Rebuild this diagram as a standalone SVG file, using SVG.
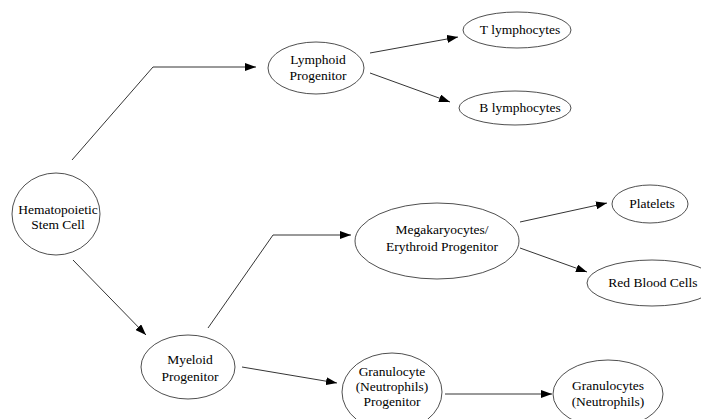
<svg xmlns="http://www.w3.org/2000/svg" width="701" height="419" viewBox="0 0 701 419">
<defs>
<marker id="arr" markerWidth="11" markerHeight="8" refX="11" refY="4" orient="auto" markerUnits="userSpaceOnUse">
<path d="M0,0 L11,4 L0,8 z" fill="#000"/>
</marker>
<style>
.n ellipse{fill:#fff;stroke:#222;stroke-width:0.8}
.n text{font-family:"Liberation Serif","Times New Roman",serif;font-size:13.5px;fill:#000;text-anchor:middle}
.c path{fill:none;stroke:#000;stroke-width:0.8;marker-end:url(#arr)}
</style>
</defs>
<rect width="701" height="419" fill="#fff"/>
<g class="c" id="connectors">
<path d="M72,160 L153,67 L256,67"/>
<path d="M73,260 L146,335"/>
<path d="M370,53 L458,37"/>
<path d="M370,73 L450,102"/>
<path d="M208,328 L273,235 L351,235"/>
<path d="M242,367 L337,383"/>
<path d="M520,222 L607,203"/>
<path d="M520,248 L587,272"/>
<path d="M445,394 L552,394"/>
</g>
<g class="n" id="stem">
<ellipse cx="56" cy="214" rx="44" ry="41"/>
<text x="58" y="214">Hematopoietic</text>
<text x="58" y="229">Stem Cell</text>
</g>
<g class="n" id="lymphoid">
<ellipse cx="316" cy="68" rx="48" ry="26"/>
<text x="318" y="64">Lymphoid</text>
<text x="318" y="80">Progenitor</text>
</g>
<g class="n" id="tlymph">
<ellipse cx="517" cy="30" rx="54" ry="18"/>
<text x="520" y="34">T lymphocytes</text>
</g>
<g class="n" id="blymph">
<ellipse cx="515" cy="108" rx="56" ry="17"/>
<text x="520" y="112">B lymphocytes</text>
</g>
<g class="n" id="mega">
<ellipse cx="437" cy="241" rx="82" ry="38"/>
<text x="442" y="234">Megakaryocytes/</text>
<text x="442" y="251">Erythroid Progenitor</text>
</g>
<g class="n" id="platelets">
<ellipse cx="650" cy="204" rx="38" ry="19"/>
<text x="652" y="208">Platelets</text>
</g>
<g class="n" id="rbc">
<ellipse cx="652" cy="283" rx="65" ry="23"/>
<text x="653" y="287">Red Blood Cells</text>
</g>
<g class="n" id="myeloid">
<ellipse cx="188" cy="367" rx="47" ry="32"/>
<text x="190" y="364">Myeloid</text>
<text x="190" y="381">Progenitor</text>
</g>
<g class="n" id="granprog">
<ellipse cx="392" cy="392" rx="50" ry="39"/>
<text x="392" y="376">Granulocyte</text>
<text x="392" y="391">(Neutrophils)</text>
<text x="392" y="406">Progenitor</text>
</g>
<g class="n" id="gran">
<ellipse cx="608" cy="394" rx="55" ry="34"/>
<text x="608" y="390">Granulocytes</text>
<text x="608" y="406">(Neutrophils)</text>
</g>
</svg>
